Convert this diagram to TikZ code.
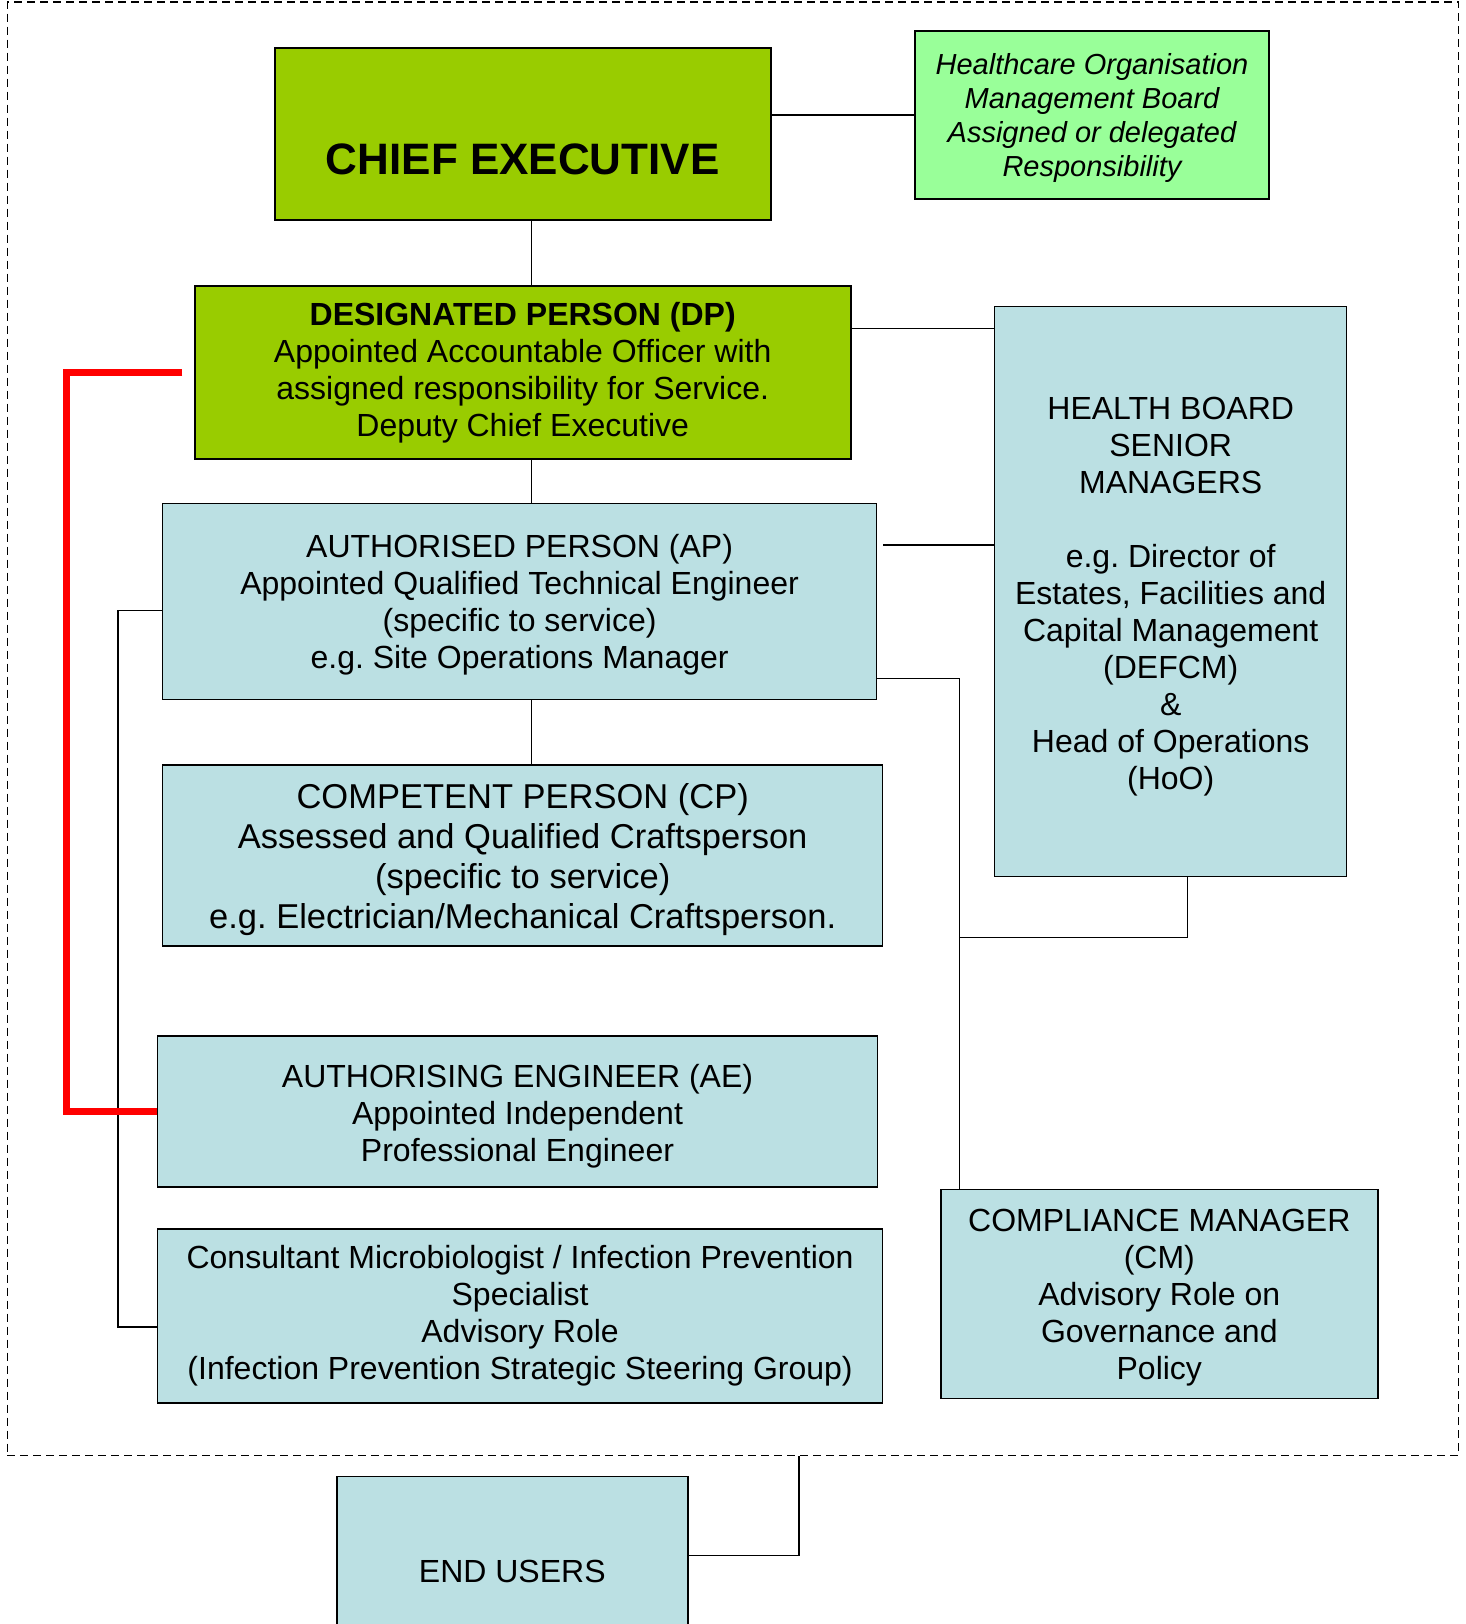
\documentclass[tikz,border=0pt]{standalone}
\usepackage{fontspec}
\setmainfont{Liberation Sans}
\frenchspacing
\usetikzlibrary{positioning,calc}
\definecolor{ceGreen}{HTML}{99CC00}
\definecolor{boardGreen}{HTML}{99FF99}
\definecolor{roleBlue}{HTML}{BBE0E3}
\definecolor{dpRed}{HTML}{FF0000}
% invisible strut that pushes a text block a little lower in its box
\newcommand{\liftstrut}[1]{\rule{0pt}{#1}}
\tikzset{
  % role boxes
  role/.style={draw, fill=roleBlue, line width=1.5pt, align=center, inner sep=0pt, font=\fontsize{32}{37}\selectfont},
  lead/.style={role, fill=ceGreen, line width=2pt},
  board/.style={role, fill=boardGreen, font=\fontsize{29}{34}\selectfont\itshape},
  % connectors
  conn/.style={line width=1.5pt},
  redconn/.style={draw=dpRed, line width=6.5pt},
  outerframe/.style={draw, dash pattern=on 8pt off 5pt, line width=1.5pt},
}

\begin{document}
\begin{tikzpicture}[x=1pt, y=-1pt]
  \useasboundingbox (0,0) rectangle (1466,1624);

  \node[outerframe, minimum width=1451.4pt, minimum height=1453.6pt] (frame) at (733,728.8) {};

  \node[lead, minimum width=496pt, minimum height=172pt, text height=81pt, text depth=0pt,
        font=\fontsize{44}{50}\selectfont\bfseries] (ce) at (522.7,133.7) {CHIEF EXECUTIVE};

  \node[board, minimum width=354pt, minimum height=168pt] (homb) at (1092,115)
    {\liftstrut{27pt}Healthcare Organisation\\Management Board\\Assigned or delegated\\Responsibility};

  \node[lead, minimum width=656pt, minimum height=173pt] (dp) at (522.7,372.5)
    {\textbf{DESIGNATED PERSON (DP)}\\Appointed Accountable Officer with\\assigned responsibility for Service.\\Deputy Chief Executive};

  \node[role, minimum width=352pt, minimum height=570pt] (hbsm) at (1170.7,591.6)
    {\liftstrut{33pt}HEALTH BOARD\\SENIOR\\MANAGERS\\[37pt]e.g. Director of\\Estates, Facilities and\\Capital Management\\(DEFCM)\\\&\\Head of Operations\\(HoO)};

  \node[role, minimum width=714pt, minimum height=196pt] (ap) at (519.6,601.4)
    {\liftstrut{30.5pt}AUTHORISED PERSON (AP)\\Appointed Qualified Technical Engineer\\(specific to service)\\e.g. Site Operations Manager};

  \node[role, minimum width=720pt, minimum height=181pt, font=\fontsize{34.5}{40}\selectfont] (cp) at (522.7,855.3)
    {\liftstrut{33pt}COMPETENT PERSON (CP)\\Assessed and Qualified Craftsperson\\(specific to service)\\e.g. Electrician/Mechanical Craftsperson.};

  \node[role, minimum width=720pt, minimum height=151pt] (ae) at (517.5,1111.7)
    {\liftstrut{33pt}AUTHORISING ENGINEER (AE)\\Appointed Independent\\Professional Engineer};

  \node[role, minimum width=725pt, minimum height=174pt] (cons) at (520.1,1315.8)
    {Consultant Microbiologist / Infection Prevention\\Specialist\\Advisory Role\\(Infection Prevention Strategic Steering Group)};

  \node[role, minimum width=437pt, minimum height=209pt] (cm) at (1159.3,1294)
    {\liftstrut{30.5pt}COMPLIANCE MANAGER\\(CM)\\Advisory Role on\\Governance and\\Policy};

  \node[role, minimum width=351pt, minimum height=190.6pt] (eu) at (512.3,1571.7) {END USERS};

  % main chain
  \coordinate (trunk) at (531.5,0);
  \draw[conn] (ce.south -| trunk) -- (dp.north -| trunk);
  \draw[conn] (dp.south -| trunk) -- (ap.north -| trunk);
  \draw[conn] (ap.south -| trunk) -- (cp.north -| trunk);
  \draw[conn] (homb.west) -- (homb.west -| ce.east);

  % links to senior managers
  \coordinate (dpTap) at ($(dp.north east)+(0,43.5)$);
  \draw[conn] (dpTap) -- (dpTap -| hbsm.west);
  \coordinate (apTap) at ($(ap.north east)+(6,42.5)$);
  \draw[conn] (apTap) -- (apTap -| hbsm.west);

  % compliance manager riser
  \coordinate (apLow) at ($(ap.south east)+(0,-21.7)$);
  \coordinate (cmRiser) at (959.4,0);
  \draw[conn] (apLow) -| (cmRiser |- cm.north);
  \coordinate (hbDrop) at (1187.3,937.6);
  \draw[conn] (hbsm.south -| hbDrop) |- (hbDrop -| cmRiser);

  % advisory rail on the left
  \coordinate (apLeft) at ($(ap.north west)+(0,107.8)$);
  \coordinate (leftRail) at (118.1,1327.2);
  \draw[conn] (apLeft) -| (leftRail) -- (leftRail -| cons.west);

  % DP to AE
  \coordinate (redRail) at (66.3,0);
  \draw[redconn] ($(dp.west)+(-11.4,0)$) -| (redRail |- ae.west) -- (ae.west);

  % end users
  \coordinate (euRiser) at (798.8,0);
  \draw[conn] ($(eu.north east)+(0,79.6)$) -| (euRiser |- frame.south);
\end{tikzpicture}
\end{document}
